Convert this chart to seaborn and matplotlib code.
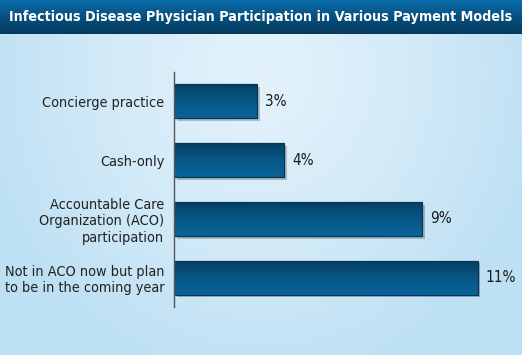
import numpy as np
import pandas as pd
import matplotlib
matplotlib.use("Agg")
import matplotlib.pyplot as plt
import matplotlib.patheffects as pe
from matplotlib.colors import LinearSegmentedColormap
import seaborn as sns

categories = ["Concierge practice", "Cash-only",
              "Accountable Care\nOrganization (ACO)\nparticipation",
              "Not in ACO now but plan\nto be in the coming year"]
values = [3, 4, 9, 11]
value_labels = ["3%", "4%", "9%", "11%"]
title = "Infectious Disease Physician Participation in Various Payment Models"

sns.set_theme(style="white")
plt.rcParams['font.family'] = ['DejaVu Sans']
plt.rcParams['font.stretch'] = 'condensed'

W, H = 522, 355
fig = plt.figure(figsize=(W / 100, H / 100), dpi=100)

# background gradient
bg = fig.add_axes([0, 0, 1, 1])
bg.set_axis_off()
yy, xx = np.mgrid[0:1:200j, 0:1:300j]
d = np.sqrt(((xx - 0.5) / 0.8) ** 2 + ((yy - 0.2) / 1.3) ** 2)
bg_cmap = LinearSegmentedColormap.from_list("bg", ["#e4f3fb", "#d4ebf8", "#bde0f4"])
bg.imshow(d, cmap=bg_cmap, extent=[0, 1, 0, 1], aspect="auto", origin="upper",
          vmin=0, vmax=0.7)
bg.set_xlim(0, 1)
bg.set_ylim(0, 1)

# title bar
tb_h = 34 / H
tb = fig.add_axes([0, 1 - tb_h, 1, tb_h])
tb.set_axis_off()
grad = np.linspace(0, 1, 100).reshape(-1, 1)
tb_cmap = LinearSegmentedColormap.from_list("tb", ["#0b6dab", "#07507f", "#053a5e"])
tb.imshow(grad, cmap=tb_cmap, extent=[0, 1, 0, 1], aspect="auto", origin="upper")
tb.set_xlim(0, 1)
tb.set_ylim(0, 1)
tb.text(0.5, 0.5, title, color="white", fontsize=10.3, fontweight="bold",
        ha="center", va="center")

# main axes
ax = fig.add_axes([174 / W, (H - 307) / H, 345 / W, 235 / H])
ax.patch.set_alpha(0)
df = pd.DataFrame({"category": categories, "value": values})
sns.barplot(data=df, x="value", y="category", orient="h", color="#075a8a",
            width=0.58, ax=ax, edgecolor="#043552", linewidth=0.8)
ax.set_xlim(0, 12.5)
ax.set_ylim(3.5, -0.5)

bar_cmap = LinearSegmentedColormap.from_list("bar", ["#063e62", "#075786", "#0a6399"])
for p in ax.patches:
    x0, y0 = p.get_x(), p.get_y()
    w, h = p.get_width(), p.get_height()
    p.set_path_effects([pe.SimplePatchShadow(offset=(2, -2), alpha=0.22, shadow_rgbFace="#000000"),
                        pe.Normal()])
    im = ax.imshow(grad, cmap=bar_cmap, extent=[x0, x0 + w, y0 + h, y0],
                   aspect="auto", origin="upper", zorder=p.get_zorder() + 0.1)
    im.set_clip_path(p)
    edge = plt.Rectangle((x0, y0), w, h, fill=False, edgecolor="#043552",
                         linewidth=0.8, zorder=p.get_zorder() + 0.2)
    ax.add_patch(edge)

for i, (v, lab) in enumerate(zip(values, value_labels)):
    ax.text(v + 0.28, i, lab, va="center", ha="left", fontsize=11, color="#1a1a1a")

ax.set_xlabel("")
ax.set_ylabel("")
ax.set_xticks([])
ax.tick_params(axis="y", length=0, pad=7, labelsize=10.4, labelcolor="#222222")
for lab in ax.get_yticklabels():
    lab.set_ha("right")
    lab.set_multialignment("right")
for s in ["top", "right", "bottom"]:
    ax.spines[s].set_visible(False)
ax.spines["left"].set_color("#555555")
ax.spines["left"].set_linewidth(1)

fig.savefig("out.png", dpi=100)
